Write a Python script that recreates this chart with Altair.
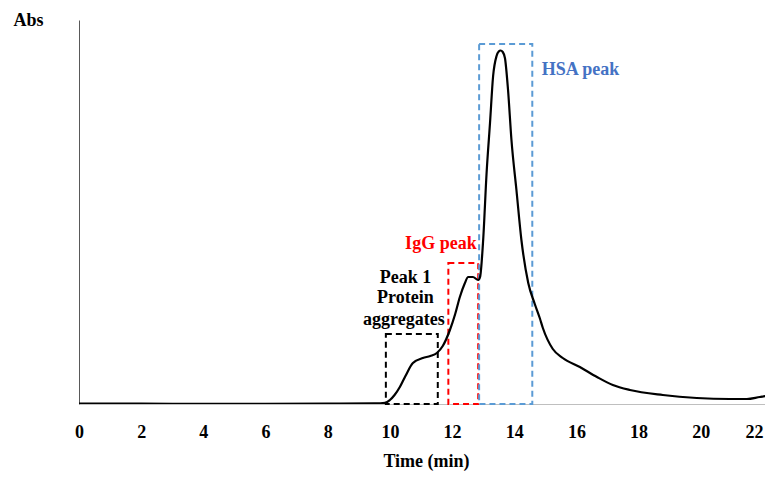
import altair as alt
import pandas as pd

# Chromatogram (time in min, absorbance in arbitrary units)
time_min = [0, 2, 4, 6, 8, 9.5, 9.85, 10.0, 10.15, 10.32, 10.5, 10.74, 11.06, 11.3, 11.51,
            11.7, 11.93, 12.1, 12.25, 12.4, 12.52, 12.67, 12.84, 12.9, 13.0, 13.11, 13.22,
            13.32, 13.43, 13.5, 13.56, 13.63, 13.7, 13.8, 13.91, 14.07, 14.23, 14.45, 14.66,
            14.82, 14.92, 15.24, 15.56, 16.11, 16.66, 17.17, 17.72, 18.78, 19.87, 20.93, 21.48,
            21.9, 22.12, 22.3]
absorbance = [0.5, 0.3, 0.2, 0.1, 0.3, 0.6, 1.2, 4, 9, 17, 28, 41, 46, 48, 51,
              58, 74, 90, 107, 120, 127, 127, 124, 127, 164, 231, 281,
              328, 348, 352.5, 353.5, 352, 346, 314, 264, 214, 164, 121, 100,
              86, 76, 55, 46, 37, 27, 19, 14, 9, 6, 5, 5,
              7, 8, 8]

# Dashed boxes marking the peaks
box_name = ["Peak 1", "IgG", "HSA"]
box_start = [9.87, 11.88, 12.87]
box_end = [11.54, 12.84, 14.58]
box_top = [70, 141, 360]
box_color = ["#000000", "#ff0000", "#5b9bd5"]

# Annotations
ann_text = ["HSA peak", "IgG peak", "Peak 1", "Protein", "aggregates"]
ann_t = [16.13, 11.64, 10.5, 10.5, 10.45]
ann_v = [329, 155, 121, 101, 79]
ann_color = ["#4472c4", "#ff0000", "#000000", "#000000", "#000000"]

tick_values = [0, 2, 4, 6, 8, 10, 12, 14, 16, 18, 20, 22]

FONT = "Liberation Serif"

curve = pd.DataFrame({"t": time_min, "v": absorbance})
boxes = pd.DataFrame({"name": box_name, "x0": box_start, "x1": box_end,
                      "top": box_top, "bottom": [0] * 3, "color": box_color})
ann = pd.DataFrame({"text": ann_text, "t": ann_t, "v": ann_v, "color": ann_color})

xscale = alt.Scale(domain=[0, 22.065], nice=False, zero=False)
yscale = alt.Scale(domain=[0, 384], nice=False)

xaxis = alt.Axis(values=tick_values, title="Time  (min)", grid=False, ticks=False,
                 domainColor="#bfbfbf", domainWidth=1.2,
                 labelFont=FONT, labelFontSize=18, labelFontWeight="bold", labelColor="#000000",
                 labelPadding=19, labelFlush=False, labelBound=False,
                 labelAlign=alt.expr("datum.value >= 22 ? 'right' : 'center'"),
                 titleFont=FONT, titleFontSize=18, titleFontWeight="bold", titleColor="#000000",
                 titleBaseline="alphabetic", titleY=62, titleX=347)
yaxis = alt.Axis(title="Abs", grid=False, ticks=False, labels=False,
                 domainColor="#595959", domainWidth=1,
                 titleFont=FONT, titleFontSize=18, titleFontWeight="bold", titleColor="#000000",
                 titleAngle=0, titleAlign="center", titleBaseline="alphabetic",
                 titleX=-51, titleY=5)

rects = alt.Chart(boxes).mark_rect(fillOpacity=0, strokeWidth=2, strokeDash=[6, 4]).encode(
    x=alt.X("x0:Q", scale=xscale, axis=xaxis),
    x2="x1:Q",
    y=alt.Y("top:Q", scale=yscale, axis=yaxis),
    y2="bottom:Q",
    stroke=alt.Color("color:N", scale=None),
)

line = alt.Chart(curve).mark_line(color="#000000", strokeWidth=2.2, interpolate="monotone",
                                  clip=True).encode(
    x=alt.X("t:Q", scale=xscale),
    y=alt.Y("v:Q", scale=yscale),
)

texts = alt.Chart(ann).mark_text(font=FONT, fontSize=18, fontWeight="bold",
                                 align="center", baseline="alphabetic").encode(
    x=alt.X("t:Q", scale=xscale),
    y=alt.Y("v:Q", scale=yscale),
    text="text:N",
    color=alt.Color("color:N", scale=None),
)

chart = alt.layer(rects, line, texts).properties(
    width=686, height=384,
    autosize=alt.AutoSizeParams(type="none"),
    padding={"left": 71, "top": 12, "right": 0, "bottom": 67},
).configure_view(stroke=None)

chart.save("out.html", embed_options={"renderer": "svg", "actions": False})
